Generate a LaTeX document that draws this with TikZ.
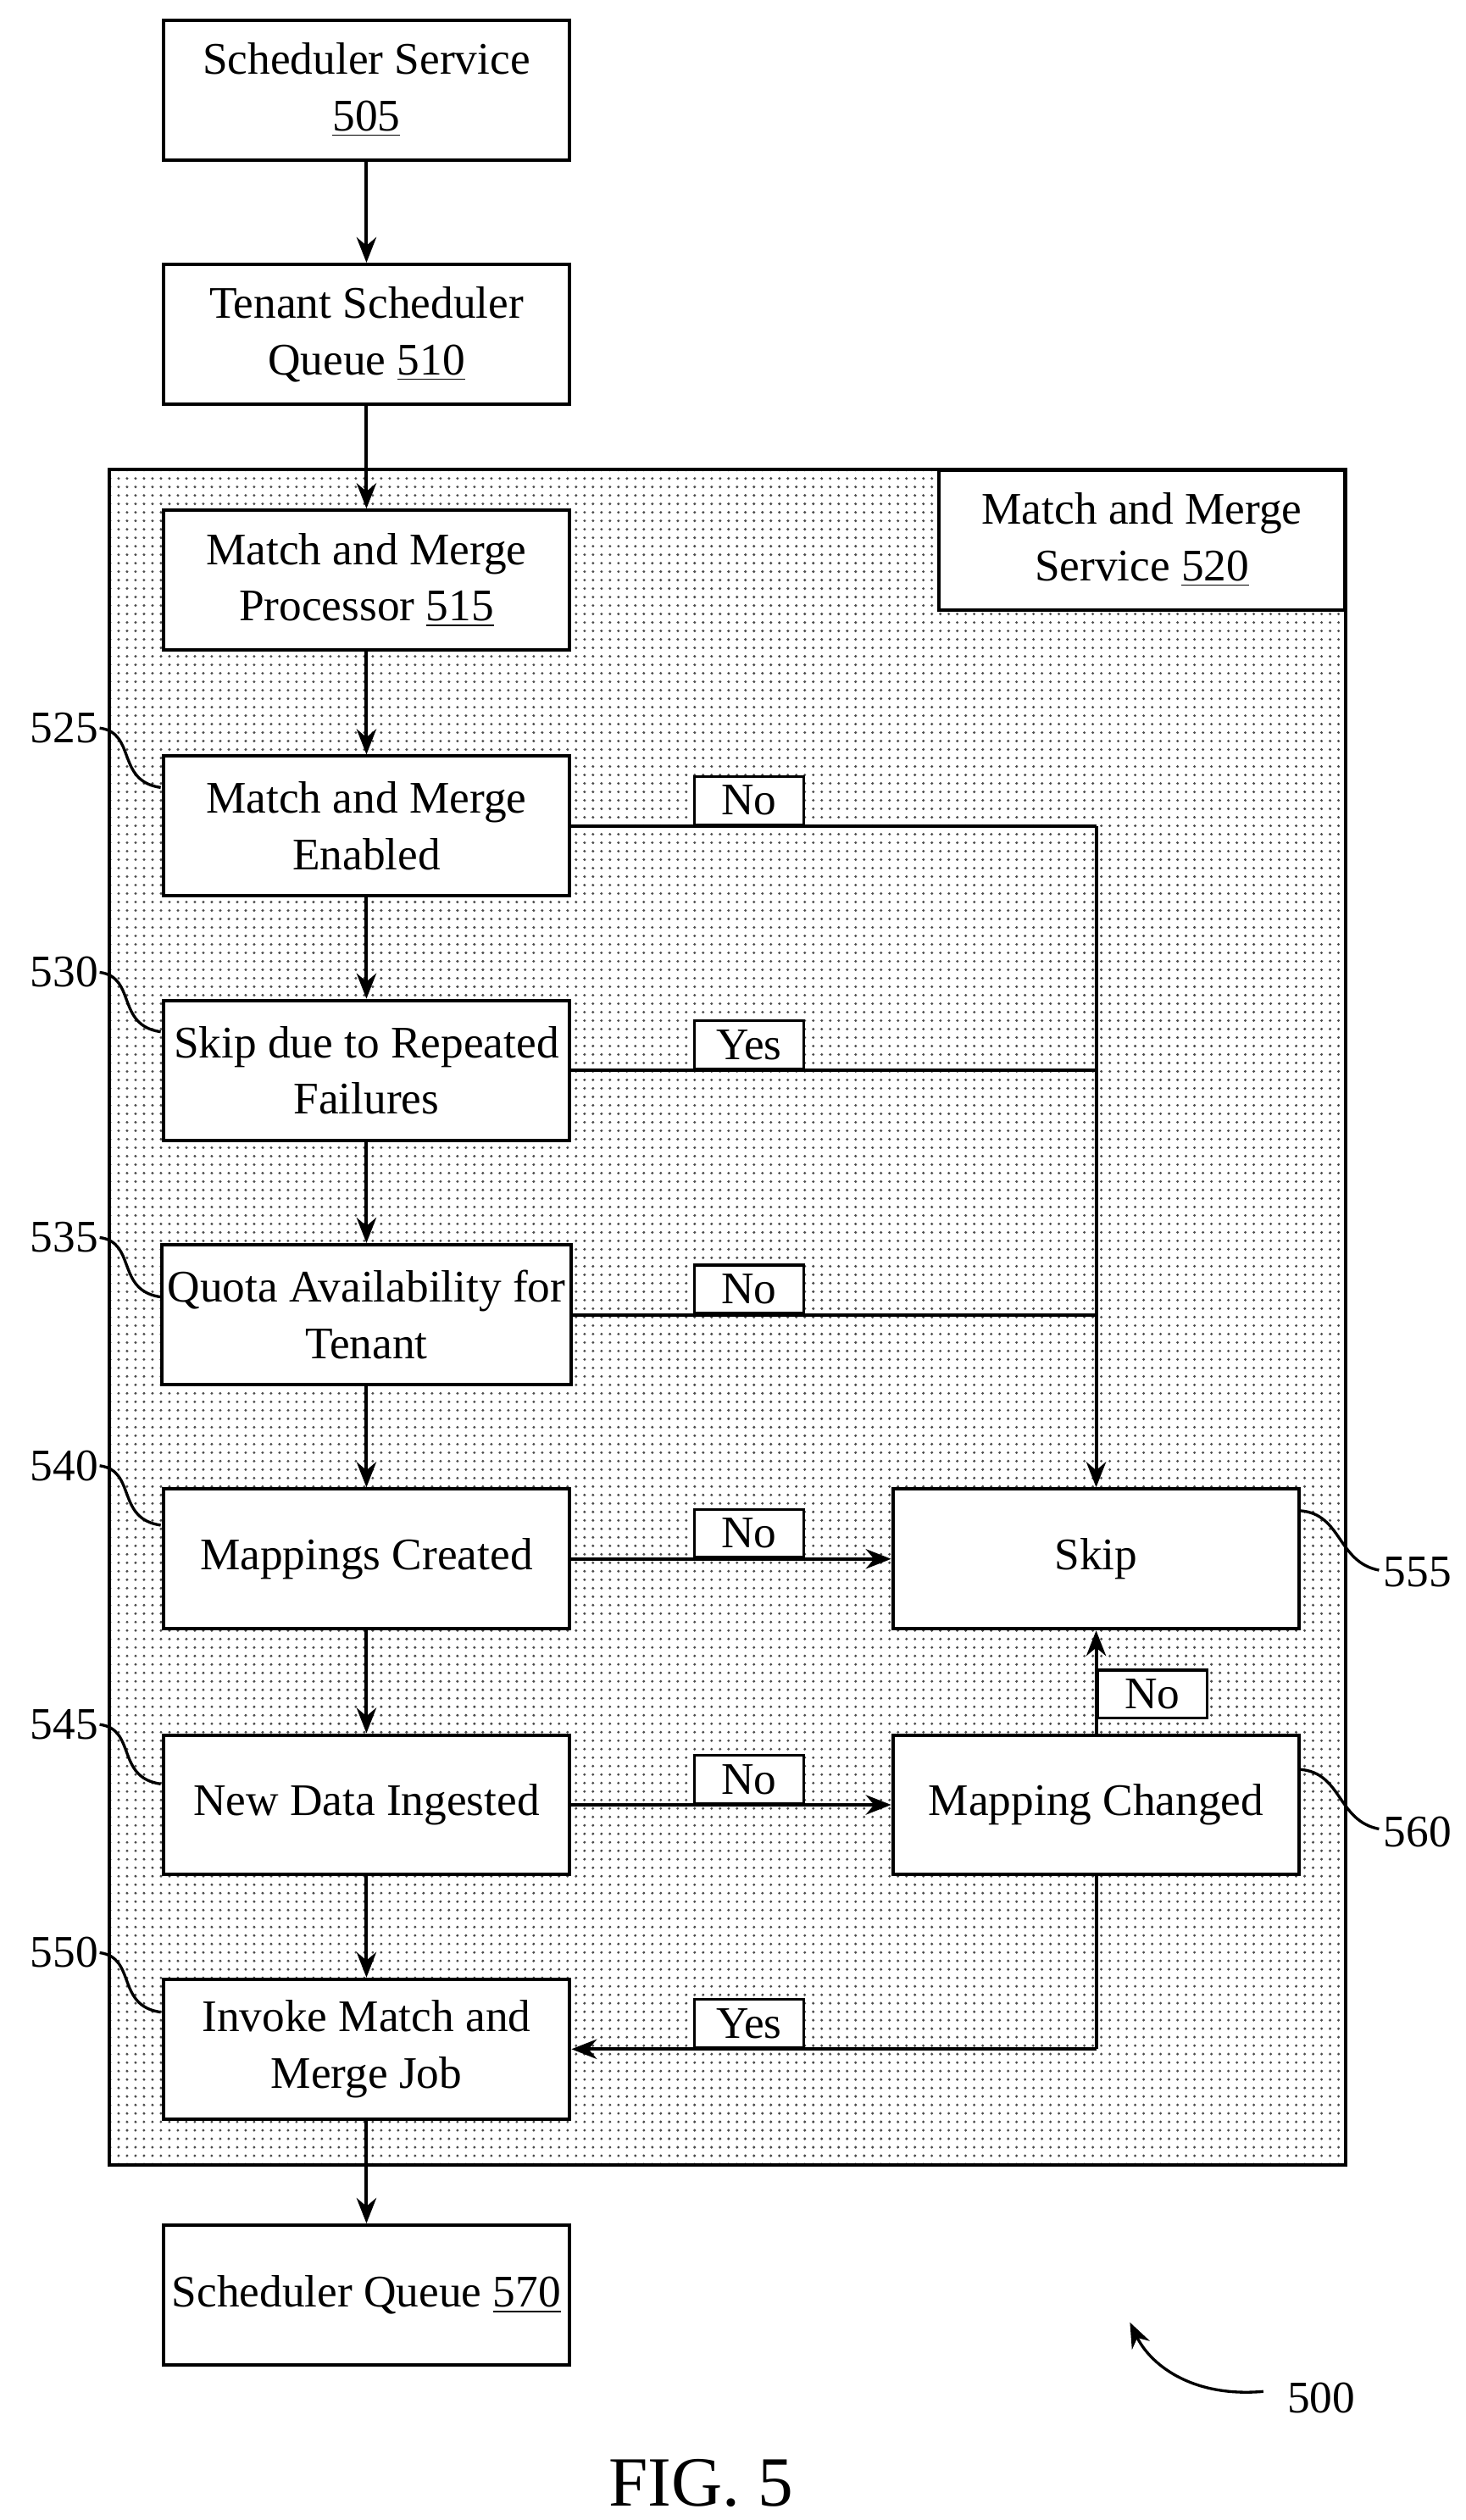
\documentclass[tikz,border=0pt]{standalone}
\usepackage{fontspec}
\setmainfont{Liberation Serif}
\usetikzlibrary{patterns,arrows.meta}
\begin{document}
\begin{tikzpicture}[x=0.02cm,y=-0.02cm,
 box/.style={draw,line width=1.2pt,fill=white,minimum width=5.06cm,minimum height=1.74cm,align=center,inner sep=2pt,font=\fontsize{16}{20}\selectfont},
 lab/.style={draw,line width=1pt,fill=white,minimum width=1.36cm,minimum height=0.6cm,inner sep=0pt,font=\fontsize{16}{18}\selectfont},
 ref/.style={font=\fontsize{16}{18}\selectfont},
 ln/.style={line width=1.2pt},
 ar/.style={line width=1.2pt,-{Stealth[length=9pt,width=7pt]}}]
\useasboundingbox (0,0) rectangle (912,1568);
\fill[white] (0,0) rectangle (912,1568);
\draw[line width=1.2pt,fill=white] (68,292) rectangle (837,1347);
\fill[pattern=dots,pattern color=black!70] (68,292) rectangle (837,1347);
\draw[line width=1.2pt] (68,292) rectangle (837,1347);
\node[box,minimum width=5.06cm] (s520) at (710.5,336) {Match and Merge\\Service \underline{520}};
\node[box] (s505) at (228,56) {Scheduler Service\\\underline{505}};
\node[box] (s510) at (228,208) {Tenant Scheduler\\Queue \underline{510}};
\node[box] (s515) at (228,361) {Match and Merge\\Processor \underline{515}};
\node[box] (s525) at (228,514) {Match and Merge\\Enabled};
\node[box] (s530) at (228,666) {Skip due to Repeated\\Failures};
\node[box] (s535) at (228,818) {Quota Availability for\\Tenant};
\node[box] (s540) at (228,970) {Mappings Created};
\node[box] (s545) at (228,1123) {New Data Ingested};
\node[box] (s550) at (228,1275) {Invoke Match and\\Merge Job};
\node[box] (s570) at (228,1428) {Scheduler Queue \underline{570}};
\node[box] (s555) at (682,970) {Skip};
\node[box] (s560) at (682,1123) {Mapping Changed};
\foreach \a/\b in {s505/s510,s510/s515,s515/s525,s525/s530,s530/s535,s535/s540,s540/s545,s545/s550,s550/s570}
  \draw[ar] (\a.south) -- (\b.north);
\coordinate (j1) at (682,514);
\draw[ln] (s525.east) -- (j1);
\draw[ar] (j1) -- (s555.north);
\draw[ln] (s530.east) -- (682,666);
\draw[ln] (s535.east) -- (682,818);
\draw[ar] (s540.east) -- (s555.west);
\draw[ar] (s545.east) -- (s560.west);
\draw[ar] (s560.north) -- (s555.south);
\coordinate (j2) at (682,1275);
\draw[ln] (s560.south) -- (j2);
\draw[ar] (j2) -- (s550.east);
\node[lab,anchor=south] at (466,514) {No};
\node[lab,anchor=south] at (466,666) {Yes};
\node[lab,anchor=south] at (466,818) {No};
\node[lab,anchor=south] at (466,970) {No};
\node[lab,anchor=south] at (466,1123) {No};
\node[lab,anchor=south] at (466,1275) {Yes};
\node[lab,anchor=south west] at (682,1070) {No};
\foreach \n/\y in {525/453,530/605,535/770,540/912,545/1073,550/1215}{
  \node[ref] (r\n) at (40,\y) {\n};
  \draw[line width=1pt] (62,\y) .. controls (85,\y+3) and (72,\y+33) .. (100,\y+37);
}
\node[ref] (r555) at (882,978) {555};
\draw[line width=1pt] (809,940) .. controls (835,942) and (832,972) .. (858,977);
\node[ref] (r560) at (882,1140) {560};
\draw[line width=1pt] (809,1101) .. controls (835,1103) and (832,1133) .. (858,1138);
\node[ref] (r500) at (822,1492) {500};
\draw[line width=1pt,-{Stealth[length=9pt,width=7pt]}] (786,1488) .. controls (740,1492) and (715,1470) .. (703,1445);
\node[font=\fontsize{25}{28}\selectfont] (fig) at (436,1545) {FIG. 5};
\end{tikzpicture}
\end{document}
